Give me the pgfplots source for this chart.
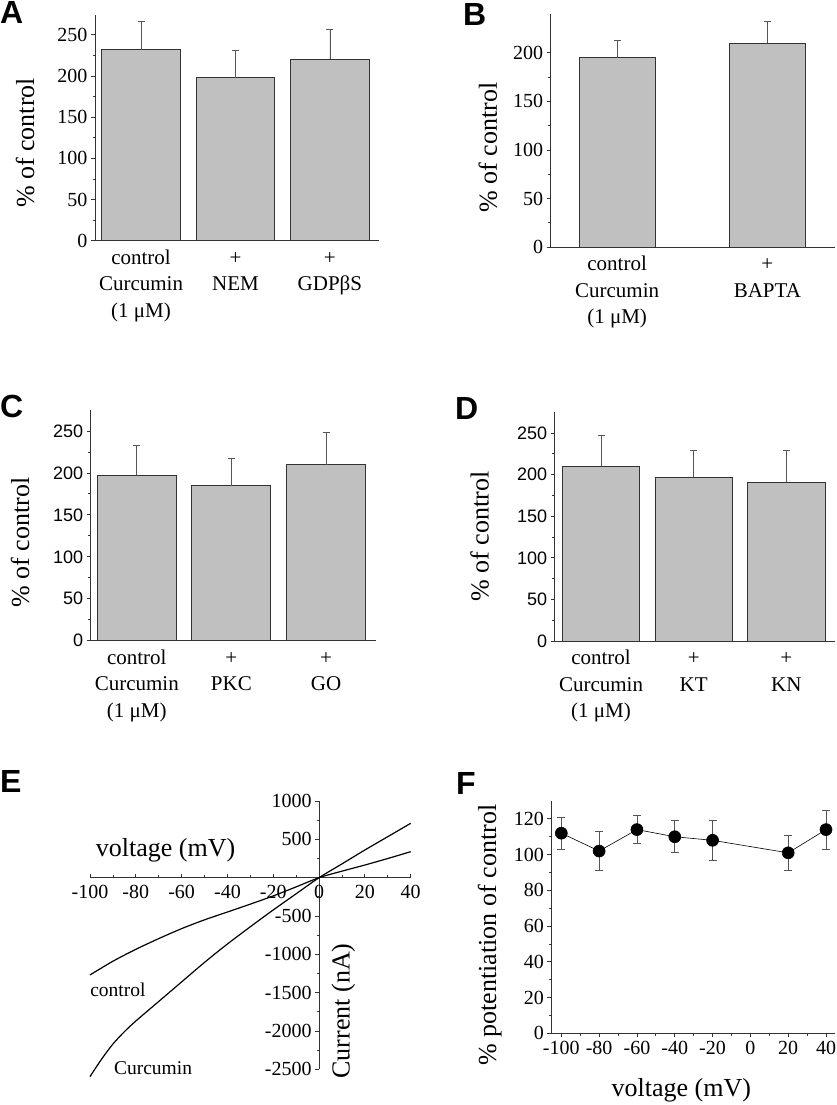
\documentclass[border=0pt]{standalone}
\usepackage{fontspec}
\setmainfont{Liberation Serif}
\newfontfamily\arial{Liberation Sans}
\usepackage{pgfplots}
\pgfplotsset{compat=1.18}

\definecolor{barfill}{HTML}{C0C0C0}
\definecolor{edge}{HTML}{333333}
\definecolor{errc}{HTML}{555555}

\newcommand{\tfont}{\fontsize{20}{24}\selectfont}
\newcommand{\sfont}{\arial\fontsize{18}{22}\selectfont}
\newcommand{\lfont}{\fontsize{26}{30}\selectfont}
\newcommand{\cfont}{\fontsize{21}{26.5}\selectfont}
\newcommand{\efont}{\fontsize{19.5}{24}\selectfont}
\newcommand{\pfont}{\arial\bfseries\fontsize{32}{36}\selectfont}

\pgfplotsset{
  panel/.style={
    scale only axis, anchor=north west,
    axis lines=left, axis line style={-, edge, line width=0.9pt},
    tick align=outside, major tick length=4pt, minor tick length=2.5pt,
    tick style={edge, line width=0.8pt},
    /pgf/number format/assume math mode=true,
    /pgf/number format/1000 sep={},
    yticklabel style={font=\tfont}, xticklabel style={font=\tfont},
    ylabel style={font=\lfont, anchor=center},
    xlabel style={font=\lfont, anchor=center},
  },
  barpanel/.style={
    panel, ybar, ymin=0,
    xtick={0,1,2}, major x tick style={draw=none},
    minor y tick num=1,
    xticklabel style={align=center, font=\cfont, yshift=2.5pt},
    ylabel={\% of control},
  },
  barplot/.style={
    fill=barfill, draw=edge, line width=0.9pt,
    error bars/.cd, y dir=plus, y explicit,
    error bar style={errc, line width=0.8pt},
    error mark options={rotate=90, errc, mark size=3.5pt, line width=0.8pt},
  },
}

\begin{document}
\begin{tikzpicture}
\useasboundingbox (0pt,0pt) rectangle (836pt,-1105pt);

% A
\begin{axis}[barpanel, at={(95pt,-15pt)}, width=284pt, height=225.7pt,
  xmin=-0.488, xmax=2.52, ymax=274, ytick={0,50,...,250}, bar width=78.6pt,
  xticklabels={{\strut control\\Curcumin\\(1 μM)},{\strut +\\NEM},{\strut +\\GDPβS}},
  ylabel style={at={(axis description cs:-0.246,0.433)}}]
\addplot[barplot] coordinates {(0,232) +- (0,34) (1,198) +- (0,33) (2,220) +- (0,37)};
\end{axis}

% B
\begin{axis}[barpanel, at={(550.7pt,-14pt)}, width=284.3pt, height=233pt,
  xmin=-0.442, xmax=1.45, ymax=240, ytick={0,50,...,200}, bar width=75.7pt,
  xtick={0,1},
  xticklabels={{\strut control\\Curcumin\\(1 μM)},{\strut +\\BAPTA}},
  ylabel style={at={(axis description cs:-0.2205,0.427)}}]
\addplot[barplot] coordinates {(0,195) +- (0,18) (1,210) +- (0,22)};
\end{axis}

% C
\begin{axis}[barpanel, at={(90.7pt,-410pt)}, width=285pt, height=230.7pt,
  xmin=-0.487, xmax=2.525, ymax=275, ytick={0,50,...,250}, bar width=79pt,
  yticklabel style={font=\sfont},
  xticklabels={{\strut control\\Curcumin\\(1 μM)},{\strut +\\PKC},{\strut +\\GO}},
  ylabel style={at={(axis description cs:-0.248,0.426)}}]
\addplot[barplot] coordinates {(0,197) +- (0,36) (1,185) +- (0,32) (2,210) +- (0,38)};
\end{axis}

% D
\begin{axis}[barpanel, at={(554.7pt,-412.3pt)}, width=280.3pt, height=228.7pt,
  xmin=-0.5, xmax=2.525, ymax=275, ytick={0,50,...,250}, bar width=77.5pt,
  yticklabel style={font=\sfont},
  xticklabels={{\strut control\\Curcumin\\(1 μM)},{\strut +\\KT},{\strut +\\KN}},
  ylabel style={at={(axis description cs:-0.2676,0.456)}}]
\addplot[barplot] coordinates {(0,210) +- (0,37) (1,197) +- (0,32) (2,191) +- (0,38)};
\end{axis}

% E
\begin{axis}[scale only axis, anchor=north west, at={(90pt,-801pt)},
  width=320.7pt, height=268.3pt,
  xmin=-100, xmax=40, ymin=-2500, ymax=1000, clip=false,
  axis lines=middle, axis line style={-, edge, line width=0.9pt},
  hide obscured x ticks=false, hide obscured y ticks=false,
  tick align=outside, major tick length=4pt, minor tick length=2.5pt,
  tick style={edge, line width=0.8pt},
  major x tick style={yshift=4pt}, minor x tick style={yshift=2.5pt},
  /pgf/number format/assume math mode=true,
  /pgf/number format/1000 sep={},
  xtick={-100,-80,-60,-40,-20,0,20,40}, minor x tick num=1,
  ytick={-2500,-2000,-1500,-1000,-500,500,1000},
  minor ytick={-2250,-1750,-1250,-750,-250,250,750},
  xticklabel style={font=\tfont}, yticklabel style={font=\tfont}]
\addplot[black, line width=1.2pt, smooth, tension=0.5] coordinates {
  (-100,-1269) (-90,-1090) (-80,-935) (-70,-795) (-60,-665) (-50,-550)
  (-40,-448) (-30,-345) (-20,-238) (-10,-120) (0,0) (10,85) (20,165)
  (30,250) (40,339)};
\addplot[black, line width=1.2pt, smooth, tension=0.5] coordinates {
  (-100,-2595) (-95,-2370) (-90,-2170) (-85,-2010) (-80,-1870) (-70,-1615)
  (-60,-1360) (-50,-1105) (-40,-865) (-30,-640) (-20,-421) (-10,-210)
  (0,0) (10,180) (20,361) (30,535) (40,709)};
\node[font=\lfont] at (axis cs:-67,361) {voltage (mV)};
\node[font=\lfont, rotate=90] at (axis cs:10.6,-1739) {Current (nA)};
\node[font=\efont] at (axis cs:-87.8,-1465) {control};
\node[font=\efont] at (axis cs:-72.5,-2486) {Curcumin};
\end{axis}

% F
\begin{axis}[panel, at={(551.3pt,-801pt)}, width=283.4pt, height=232.3pt,
  xmin=-105.3, xmax=44.6, ymin=0, ymax=130,
  xtick={-100,-80,...,40}, minor x tick num=1,
  ytick={0,20,...,120}, minor y tick num=1,
  xlabel={voltage (mV)}, ylabel={\% potentiation of control},
  xlabel style={at={(axis description cs:0.459,-0.244)}},
  ylabel style={at={(axis description cs:-0.217,0.423)}}]
\addplot[black, line width=0.6pt, mark=*, mark size=6pt,
  error bars/.cd, y dir=both, y explicit,
  error bar style={errc, line width=0.8pt},
  error mark options={rotate=90, errc, mark size=4pt, line width=0.8pt}]
  coordinates {(-100,112) +- (0,9) (-80,102) +- (0,11) (-60,114) +- (0,8)
  (-40,110) +- (0,9) (-20,108) +- (0,11) (20,101) +- (0,10) (40,114) +- (0,11)};
\end{axis}

\node[anchor=north west, inner sep=0pt, font=\pfont] at (0pt,-1pt) {A};
\node[anchor=north west, inner sep=0pt, font=\pfont] at (463pt,-3pt) {B};
\node[anchor=north west, inner sep=0pt, font=\pfont] at (0pt,-395pt) {C};
\node[anchor=north west, inner sep=0pt, font=\pfont] at (455pt,-397pt) {D};
\node[anchor=north west, inner sep=0pt, font=\pfont] at (0pt,-770pt) {E};
\node[anchor=north west, inner sep=0pt, font=\pfont] at (456pt,-772pt) {F};
\end{tikzpicture}
\end{document}
